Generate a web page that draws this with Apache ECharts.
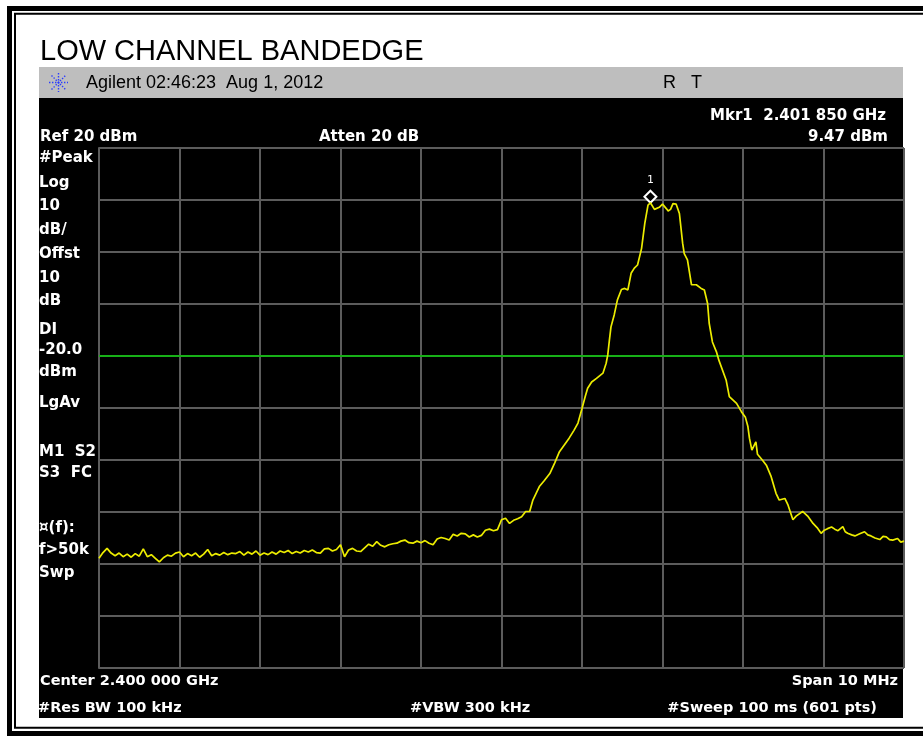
<!DOCTYPE html>
<html><head><meta charset="utf-8">
<script src="https://cdn.jsdelivr.net/npm/echarts@6/dist/echarts.min.js"></script>
<style>html,body{margin:0;padding:0;background:#fff}#c{width:923px;height:738px}</style>
</head><body><div id="c"></div>
<script>
// ---- data (frequency in MHz, level in dBm) ----
const freqMin = 2395, freqMax = 2405, freqStep = 1;
const levelMin = -80, levelMax = 20, levelStep = 10;
const displayLine = -20;
const marker = [2401.85, 9.47];

const traceNoiseLeft = [
[2395.00,-58.9],[2395.05,-57.8],[2395.10,-57.0],[2395.15,-57.9],[2395.20,-58.4],[2395.25,-57.9],[2395.30,-58.6],[2395.35,-58.1],[2395.40,-58.7],[2395.45,-58.0],
[2395.50,-58.5],[2395.55,-57.1],[2395.60,-58.6],[2395.65,-58.2],[2395.70,-58.9],[2395.75,-59.6],[2395.80,-58.8],[2395.85,-58.3],[2395.90,-58.5],[2395.95,-57.9],
[2396.00,-57.7],[2396.05,-58.6],[2396.10,-58.0],[2396.15,-58.4],[2396.20,-57.9],[2396.25,-58.7],[2396.30,-58.1],[2396.35,-57.2],[2396.40,-58.4],[2396.45,-58.0],
[2396.50,-58.3],[2396.55,-57.8],[2396.60,-58.2],[2396.65,-57.9],[2396.70,-58.0],[2396.75,-57.6],[2396.80,-58.3],[2396.85,-57.7],[2396.90,-58.1],[2396.95,-57.5],
[2397.00,-58.3],[2397.05,-57.9],[2397.10,-58.2],[2397.15,-57.7],[2397.20,-58.1],[2397.25,-57.5],[2397.30,-57.8],[2397.35,-57.4],[2397.40,-58.0],[2397.45,-57.6],
[2397.50,-57.9],[2397.55,-57.4],[2397.60,-57.7],[2397.65,-57.3],[2397.70,-57.8],[2397.75,-57.9],[2397.80,-57.1],[2397.85,-57.0],[2397.90,-57.5],[2397.95,-57.2],
[2398.00,-56.3],[2398.05,-58.6],[2398.10,-57.3],[2398.15,-57.0],[2398.20,-57.5],[2398.25,-57.6],[2398.30,-56.9],[2398.35,-56.2],[2398.40,-56.6],[2398.45,-55.7],
[2398.50,-56.4],[2398.55,-56.7],[2398.60,-56.3],[2398.65,-56.1],[2398.70,-56.0],[2398.75,-55.6],[2398.80,-55.4],[2398.85,-55.9],[2398.90,-56.0],[2398.95,-55.6],
[2399.00,-55.9],[2399.05,-55.5],[2399.10,-56.0],[2399.15,-56.3],[2399.20,-55.2],[2399.25,-54.9],[2399.30,-55.1],[2399.35,-55.4],[2399.40,-54.3],[2399.45,-54.6],
[2399.50,-54.1],[2399.55,-54.2],[2399.60,-54.8],[2399.65,-54.4],[2399.70,-54.8],[2399.75,-54.5],[2399.80,-53.5],[2399.85,-53.3],[2399.90,-53.6],[2399.95,-53.4],
[2400.00,-51.5],[2400.05,-51.2],[2400.10,-52.2],[2400.15,-51.6],[2400.20,-51.3],[2400.25,-50.9],[2400.30,-49.9],[2400.35,-49.9]
];
const traceMainLobe = [
[2400.39,-47.7],[2400.43,-46.4],[2400.47,-45.1],[2400.53,-44.0],[2400.60,-42.6],[2400.66,-40.6],[2400.72,-38.4],[2400.78,-37.1],[2400.84,-35.8],[2400.90,-34.3],
[2400.95,-32.9],[2401.00,-30.1],[2401.04,-27.8],[2401.07,-26.2],[2401.12,-25.0],[2401.18,-24.3],[2401.26,-23.3],[2401.30,-21.4],[2401.32,-19.8],[2401.34,-17.0],
[2401.36,-14.4],[2401.40,-12.1],[2401.44,-9.2],[2401.49,-7.2],[2401.53,-7.0],[2401.57,-7.3],[2401.61,-4.1],[2401.65,-3.1],[2401.69,-2.5],[2401.74,0.7],
[2401.78,5.5],[2401.82,9.0],[2401.85,9.47],[2401.90,8.2],[2401.96,8.6],[2402.00,9.2],[2402.05,8.3],[2402.07,7.9],[2402.10,8.2],[2402.13,9.3],
[2402.17,9.2],[2402.21,7.4],[2402.25,1.7],[2402.27,-0.3],[2402.31,-1.5],[2402.36,-6.3],[2402.42,-6.3],[2402.48,-7.0],[2402.52,-7.3],[2402.56,-9.9],
[2402.58,-13.7],[2402.62,-17.3],[2402.67,-19.2],[2402.70,-20.8],[2402.79,-24.6],[2402.83,-27.8],[2402.92,-29.1],[2402.98,-30.7],[2403.03,-31.8],[2403.06,-33.5],
[2403.08,-35.8],[2403.11,-38.1],[2403.16,-36.5],[2403.18,-38.9],[2403.24,-40.0],[2403.29,-41.0],[2403.35,-43.2],[2403.41,-46.4],[2403.45,-47.7],[2403.52,-47.4],
[2403.56,-48.7],[2403.62,-51.5],[2403.66,-50.8],[2403.74,-49.9],[2403.81,-50.9],[2403.87,-52.2],[2403.92,-53.0],[2403.97,-54.1]
];
const traceNoiseRight = [
[2404.01,-53.5],[2404.05,-53.2],[2404.10,-52.9],[2404.14,-53.3],[2404.18,-53.6],[2404.24,-52.8],[2404.27,-53.8],[2404.30,-54.1],[2404.35,-54.4],[2404.39,-54.6],
[2404.45,-54.2],[2404.51,-53.8],[2404.55,-54.4],[2404.59,-54.6],[2404.64,-55.0],[2404.70,-55.3],[2404.74,-54.7],[2404.78,-54.8],[2404.82,-55.3],[2404.86,-55.4],
[2404.92,-55.1],[2404.96,-55.8],[2405.00,-55.6]
];

// ---- texts ----
const titleText = 'LOW CHANNEL BANDEDGE';
const headerLeft = 'Agilent 02:46:23  Aug 1, 2012';
const headerRight = 'R   T';
const markerLine1 = 'Mkr1  2.401 850 GHz';
const markerLine2 = '9.47 dBm';
const refText = 'Ref 20 dBm';
const attenText = 'Atten 20 dB';
const sideLabels = ['#Peak','Log','10','dB/','Offst','10','dB','DI','-20.0','dBm','LgAv','M1  S2','S3  FC','\u00a4(f):','f>50k','Swp'];
const bottomRow1 = ['Center 2.400 000 GHz', 'Span 10 MHz'];
const bottomRow2 = ['#Res BW 100 kHz', '#VBW 300 kHz', '#Sweep 100 ms (601 pts)'];

// ---- layout ----
const sideLabelY = [158,183,206,230,254,278,301,330,350,372,403,452,473,528,550,573];
const boldFont = 'bold 15px "DejaVu Sans"';
const bottomFont = 'bold 14.5px "DejaVu Sans"';
const gridColor = '#5c5c5c';

const chart = echarts.init(document.getElementById('c'), null, {renderer:'canvas'});

function txt(text, x, y, font, fill, align) {
  return {type:'text', z:50, silent:true,
    style:{text:text, x:x, y:y, font:font, fill:fill, align:align||'left', verticalAlign:'middle'}};
}

const graphics = [
  // page frame
  {type:'rect', z:-20, silent:true, shape:{x:9.5,y:8.5,width:930,height:725}, style:{fill:'#fff', stroke:'#000', lineWidth:5}},
  {type:'rect', z:-19, silent:true, shape:{x:15,y:13.7,width:930,height:714}, style:{fill:'none', stroke:'#000', lineWidth:2}},
  // analyzer screen
  {type:'rect', z:-10, silent:true, shape:{x:39,y:67,width:864,height:31}, style:{fill:'#bebebe'}},
  {type:'rect', z:-10, silent:true, shape:{x:39,y:98,width:864,height:620}, style:{fill:'#000'}},
  txt(titleText, 40, 52, '29px "Liberation Sans"', '#000'),
  txt(headerLeft, 86, 83, '18px "Liberation Sans"', '#000'),
  txt(headerRight, 663, 83, '18px "Liberation Sans"', '#000'),
  txt(markerLine1, 886, 116, boldFont, '#fff', 'right'),
  txt(markerLine2, 888, 137, boldFont, '#fff', 'right'),
  txt(refText, 40, 137, boldFont, '#fff'),
  txt(attenText, 319, 137, boldFont, '#fff'),
  txt(bottomRow1[0], 40, 681, bottomFont, '#fff'),
  txt(bottomRow1[1], 898, 681, bottomFont, '#fff', 'right'),
  txt(bottomRow2[0], 38, 708, bottomFont, '#fff'),
  txt(bottomRow2[1], 410, 708, bottomFont, '#fff'),
  txt(bottomRow2[2], 877, 708, bottomFont, '#fff', 'right')
];
sideLabels.forEach((s, i) => graphics.push(txt(s, 39, sideLabelY[i], boldFont, '#fff')));
// Agilent spark logo
[[49,82.5,68,82.5],[58.5,73,58.5,92],[51.5,75.5,65.5,89.5],[51.5,89.5,65.5,75.5]].forEach(p => graphics.push(
  {type:'line', z:40, silent:true, shape:{x1:p[0],y1:p[1],x2:p[2],y2:p[3]}, style:{stroke:'#2a3cff', lineWidth:1.4, lineDash:[1.4,1.6]}}));

const axisCommon = {
  axisLabel:{show:false}, axisTick:{show:false},
  axisLine:{show:true, lineStyle:{color:gridColor, width:2}},
  splitLine:{show:true, lineStyle:{color:gridColor, width:2}}
};

chart.setOption({
  animation:false,
  backgroundColor:'transparent',
  graphic: graphics,
  grid:{left:99, top:148, width:805, height:520, containLabel:false},
  xAxis: Object.assign({type:'value', min:freqMin, max:freqMax, interval:freqStep}, axisCommon),
  yAxis: Object.assign({type:'value', min:levelMin, max:levelMax, interval:levelStep}, axisCommon),
  series:[{
    type:'line',
    data: traceNoiseLeft.concat(traceMainLobe, traceNoiseRight),
    symbol:'none', showSymbol:false, clip:true,
    lineStyle:{color:'#ecec00', width:1.7},
    z:5,
    markLine:{silent:true, symbol:'none', label:{show:false},
      lineStyle:{color:'#00cc00', width:1.5, type:'solid'}, data:[{yAxis:displayLine}]},
    markPoint:{silent:true, symbol:'diamond', symbolSize:[12,12], symbolOffset:[0,-6],
      itemStyle:{color:'#000', borderColor:'#fff', borderWidth:2},
      label:{show:true, formatter:'1', position:'top', distance:4, color:'#fff', fontSize:11, fontFamily:'DejaVu Sans Mono'},
      data:[{coord:marker}]}
  }]
});
</script></body></html>
